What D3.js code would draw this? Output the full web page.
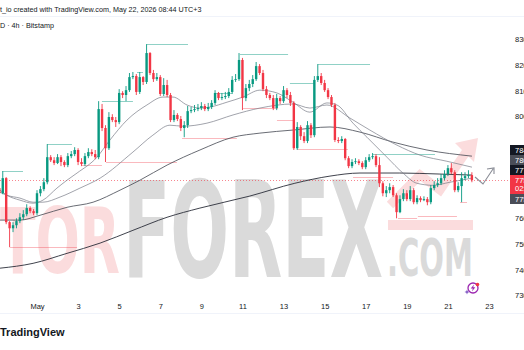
<!DOCTYPE html>
<html>
<head>
<meta charset="utf-8">
<title>BTCUSD 4h</title>
<script src="https://cdn.jsdelivr.net/npm/d3@7"></script>
<style>
  body { margin: 0; background: #ffffff; }
  svg { display: block; }
</style>
</head>
<body>
<svg id="chart"></svg>
<script>
// Chart size
const width = 524;
const height = 350;
const plotRight = 509;

// 4h candles, first bar opens 2026-04-29 04:00 UTC, each bar opens at the previous close
const firstBarTime = Date.UTC(2026, 3, 29, 4);
const firstOpen = 77190;
const closes = [
  76990, 77580, 75860, 75620, 75740, 75900, 76050, 76170, 76410, 76290,
  76210, 76990, 77150, 77420, 78400, 78280, 78170, 78400, 78210, 78090,
  78440, 78520, 78680, 78210, 78130, 78440, 78600, 78520, 78400, 80280,
  79540, 78750, 79970, 79850, 79770, 80910, 80830, 81020, 81530, 81570,
  80950, 81530, 81340, 82470, 81690, 81450, 81530, 80870, 81220, 80830,
  79850, 80050, 79890, 79540, 79650, 80200, 80240, 80280, 80320, 80400,
  80280, 80360, 80520, 80910, 80710, 80750, 80790, 80950, 81420, 81450,
  82200, 80710, 81100, 81260, 81450, 81960, 81690, 81060, 80830, 80710,
  80320, 80710, 80590, 81020, 80830, 80520, 78750, 79580, 79220, 79030,
  79650, 79260, 81420, 81570, 81300, 81020, 80750, 80440, 79070, 79030,
  79110, 78360, 78050, 78210, 78240, 78170, 78010, 78280, 78400, 78440,
  78090, 77380, 76990, 77110, 77230, 76910, 76250, 76760, 76990, 76760,
  77110, 76640, 76800, 76720, 76760, 76640, 77190, 77310, 77380, 77580,
  77740, 77970, 77810, 77110, 77270, 77580, 77660, 77700, 77500
];
const highs = [
  77270, 77850, 77620, 75900, 75860, 76010, 76210, 76330, 76560, 76480,
  76370, 77110, 77270, 77580, 78910, 78480, 78400, 78520, 78480, 78280,
  78560, 78640, 78790, 78750, 78360, 78560, 78750, 78710, 78680, 80590,
  80480, 79650, 80160, 80080, 79970, 81060, 80980, 81180, 81690, 81730,
  81650, 81730, 81570, 82820, 82510, 81810, 81690, 81610, 81490, 81420,
  80910, 80240, 80120, 80010, 79810, 80400, 80360, 80440, 80480, 80550,
  80480, 80520, 80630, 81020, 80950, 80910, 80950, 81100, 81570, 81650,
  82470, 82280, 81260, 81420, 81610, 82120, 82040, 81810, 81180, 80910,
  80830, 80870, 80790, 81180, 81100, 80950, 80590, 79770, 79650, 79380,
  79810, 79730, 81570, 82040, 81690, 81420, 81100, 80830, 80520, 79180,
  79220, 79150, 78440, 78320, 78360, 78320, 78240, 78400, 78520, 78560,
  78520, 78400, 77460, 77270, 77380, 77310, 76990, 76910, 77150, 77110,
  77270, 77190, 76910, 76870, 76870, 76840, 77310, 77460, 77580, 77740,
  77890, 78090, 78170, 77890, 77420, 77810, 77810, 77890, 77810
];
const lows = [
  76870, 76950, 75780, 74880, 75470, 75620, 75820, 75940, 76090, 76210,
  76130, 76130, 76870, 77070, 77340, 78210, 78090, 78130, 78050, 78010,
  78010, 78360, 78440, 78090, 78050, 78050, 78360, 78440, 78320, 78320,
  79420, 78210, 78680, 79770, 79580, 79690, 80710, 80590, 80950, 81450,
  80830, 80870, 81220, 81260, 81610, 81340, 81380, 80790, 80790, 80750,
  79770, 79770, 79810, 79420, 79180, 79540, 80120, 80160, 80200, 80240,
  80200, 80200, 80280, 80440, 80630, 80630, 80670, 80710, 80870, 81340,
  81380, 80240, 80590, 80980, 81140, 81380, 81610, 80980, 80710, 80630,
  80240, 80240, 80480, 80520, 80710, 80400, 78680, 78680, 79070, 78950,
  78950, 79150, 79180, 81340, 81220, 80950, 80670, 80360, 78990, 78950,
  78950, 78280, 77970, 77970, 78130, 78090, 77930, 77930, 78210, 78320,
  78010, 77230, 76870, 76840, 76990, 76840, 76010, 76210, 76680, 76680,
  76680, 76560, 76560, 76640, 76680, 76520, 76560, 77110, 77230, 77310,
  77500, 77660, 77740, 77030, 77030, 76640, 77500, 77580, 77420
];

// moving averages, [day of May, price]
const maFast = [
  [-0.80, 77110], [-0.46, 76910], [0.17, 76720], [0.81, 76600], [1.29, 76720],
  [1.97, 77190], [2.46, 77500], [2.95, 77780], [3.92, 78400], [4.55, 79070],
  [5.38, 79850], [6.35, 80440], [7.13, 80750], [7.62, 80750], [8.30, 80440],
  [8.93, 80320], [9.42, 80360], [10.25, 80550], [11.02, 80750], [11.85, 81020],
  [12.68, 80910], [13.46, 80550], [14.28, 80160], [15.11, 80520], [15.60, 80440],
  [16.38, 79730], [17.06, 79180], [18.03, 78400], [18.81, 77780], [19.49, 77380],
  [20.27, 77300], [21.10, 77420], [22.17, 77580]
];
const maMid = [
  [-0.80, 77030], [-0.46, 76910], [0.17, 76800], [0.81, 76640], [1.29, 76640],
  [2.12, 76840], [3.09, 77190], [4.07, 77580], [5.67, 78600], [6.64, 79260],
  [7.47, 79650], [8.10, 79610], [9.27, 79730], [10.54, 80050], [11.85, 80320],
  [13.46, 80480], [14.28, 80320], [15.11, 80440], [16.23, 79930], [17.20, 79460],
  [18.52, 78870], [19.64, 78480], [20.95, 78240], [22.17, 78010]
];
const maSlow = [
  [-0.80, 75940], [0.17, 75940], [1.15, 76130], [2.46, 76440], [3.73, 76640],
  [5.04, 77110], [6.01, 77500], [7.33, 78090], [8.93, 78680], [10.54, 79180],
  [11.85, 79340], [13.46, 79460], [15.26, 79580], [16.72, 79380], [18.32, 78990],
  [19.98, 78680], [22.17, 78440]
];
const maLong = [
  [-0.80, 74060], [0.81, 74250], [2.46, 74640], [4.07, 75040], [5.67, 75540],
  [7.33, 76050], [8.93, 76410], [11.36, 76880], [13.55, 77380], [15.26, 77660],
  [16.72, 77780], [18.66, 77780], [20.61, 77740], [22.17, 77700]
];

// swing high / low levels, [from day, to day, price]
const swingHighs = [
  [-0.70, 0.32, 77850], [1.49, 2.70, 78910], [4.16, 5.67, 80590], [5.87, 6.16, 81730],
  [6.35, 8.35, 82820], [9.66, 10.49, 80910], [10.88, 13.22, 82430], [13.31, 14.53, 81300],
  [14.68, 17.21, 82040], [17.35, 20.37, 78520]
];
const swingLows = [
  [-0.31, 2.95, 74880], [3.19, 4.16, 78090], [4.36, 7.81, 78210], [8.06, 10.73, 79150],
  [11.03, 12.73, 80320], [12.68, 13.46, 79850], [13.70, 16.13, 78710], [16.38, 18.33, 77620],
  [18.57, 19.50, 76010], [19.54, 21.44, 76090], [21.59, 21.93, 76640]
];

// axis ticks
const priceTicks = [73000, 74000, 75000, 76000, 77000, 78000, 79000, 80000, 81000, 82000, 83000];
const dayTicks = [1, 3, 5, 7, 9, 11, 13, 15, 17, 19, 21, 23];
const dayLabels = ["May", "3", "5", "7", "9", "11", "13", "15", "17", "19", "21", "23"];

const upColor = "#089981";
const downColor = "#f23645";
const font = "'Liberation Sans', Arial, sans-serif";

const may = (d) => new Date(Date.UTC(2026, 4, 1) + (d - 1) * 864e5);

const bars = closes.map((c, i) => ({
  t: new Date(firstBarTime + i * 4 * 3600e3),
  o: i === 0 ? firstOpen : closes[i - 1],
  c: c,
  h: highs[i],
  l: lows[i]
}));

// Scales
const x = d3.scaleUtc().domain([may(1), may(23)]).range([37, 489]);
const y = d3.scaleLinear().domain([73000, 83000]).range([295.3, 39.5]);

const svg = d3.select("#chart").attr("width", width).attr("height", height)
  .style("background", "#fff");

svg.append("defs").append("clipPath").attr("id", "plot")
  .append("rect").attr("x", 0).attr("y", 17).attr("width", plotRight).attr("height", 282);

// Header
svg.append("text").attr("x", 0).attr("y", 11.5)
  .attr("font-family", font).attr("font-size", 7.2).attr("fill", "#131722")
  .text("t_io created with TradingView.com, May 22, 2026 08:44 UTC+3");
svg.append("line").attr("x1", 0).attr("x2", width).attr("y1", 16.5).attr("y2", 16.5)
  .attr("stroke", "#f0f3fa");
svg.append("text").attr("x", 0).attr("y", 27.5)
  .attr("font-family", font).attr("font-size", 7.2).attr("fill", "#131722")
  .text("D · 4h · Bitstamp");

// Watermark
const wm = svg.append("g")
  .attr("font-family", "'Liberation Sans Narrow', 'DejaVu Sans Condensed', sans-serif")
  .attr("font-weight", "bold");
wm.append("path")
  .attr("d", "M390,205 L420,175 L440,190 L466,152")
  .attr("fill", "none").attr("stroke", "#fbdcdd").attr("stroke-width", 9);
wm.append("path")
  .attr("d", "M455,143 L478,138 L474,162 Z").attr("fill", "#fbdcdd");
wm.append("text").attr("x", 0).attr("y", 273).attr("font-size", 90)
  .attr("textLength", 120).attr("lengthAdjust", "spacingAndGlyphs")
  .attr("fill", "#fbdcdd").text("TOR");
wm.append("text").attr("x", 123).attr("y", 277).attr("font-size", 133)
  .attr("textLength", 260).attr("lengthAdjust", "spacingAndGlyphs")
  .attr("fill", "#dadada").text("FOREX");
wm.append("rect").attr("x", 388).attr("y", 220).attr("width", 85).attr("height", 10)
  .attr("fill", "#fbdcdd");
wm.append("text").attr("x", 387).attr("y", 276).attr("font-size", 52)
  .attr("textLength", 86).attr("lengthAdjust", "spacingAndGlyphs")
  .attr("fill", "#dadada").text(".COM");

const plot = svg.append("g").attr("clip-path", "url(#plot)");

// Swing levels
plot.selectAll(".swing-high").data(swingHighs).enter().append("line")
  .attr("x1", (d) => x(may(d[0]))).attr("x2", (d) => x(may(d[1])))
  .attr("y1", (d) => Math.round(y(d[2])) + 0.5).attr("y2", (d) => Math.round(y(d[2])) + 0.5)
  .attr("stroke", upColor).attr("stroke-opacity", 0.45);
plot.selectAll(".swing-low").data(swingLows).enter().append("line")
  .attr("x1", (d) => x(may(d[0]))).attr("x2", (d) => x(may(d[1])))
  .attr("y1", (d) => Math.round(y(d[2])) + 0.5).attr("y2", (d) => Math.round(y(d[2])) + 0.5)
  .attr("stroke", downColor).attr("stroke-opacity", 0.35);

// Last price line
const lastPrice = closes[closes.length - 1];
plot.append("line").attr("x1", 0).attr("x2", plotRight)
  .attr("y1", Math.round(y(lastPrice)) + 0.5).attr("y2", Math.round(y(lastPrice)) + 0.5)
  .attr("stroke", downColor).attr("stroke-opacity", 0.6).attr("stroke-dasharray", "1,2");

// Moving averages
const maLine = d3.line().x((d) => x(may(d[0]))).y((d) => y(d[1])).curve(d3.curveMonotoneX);
const maStyles = [
  { data: maLong, color: "#2a2e39", w: 0.9 },
  { data: maSlow, color: "#434651", w: 0.8 },
  { data: maMid, color: "#787b86", w: 0.7 },
  { data: maFast, color: "#787b86", w: 0.7 }
];
maStyles.forEach((m) => {
  plot.append("path").attr("d", maLine(m.data))
    .attr("fill", "none").attr("stroke", m.color).attr("stroke-width", m.w);
});

// Candles
const candles = plot.selectAll(".candle").data(bars).enter().append("g").attr("class", "candle");
candles.append("line")
  .attr("x1", (d) => x(d.t)).attr("x2", (d) => x(d.t))
  .attr("y1", (d) => y(d.h)).attr("y2", (d) => y(d.l))
  .attr("stroke", (d) => (d.c >= d.o ? upColor : downColor)).attr("stroke-width", 0.9);
candles.append("rect")
  .attr("x", (d) => x(d.t) - 1.2).attr("width", 2.4)
  .attr("y", (d) => y(Math.max(d.o, d.c)))
  .attr("height", (d) => Math.max(0.8, Math.abs(y(d.o) - y(d.c))))
  .attr("fill", (d) => (d.c >= d.o ? upColor : downColor));

// Drawn arrow
svg.append("path").attr("d", "M475,177 L483,184 L493,169 M487,169 L494,168 L494,174")
  .attr("fill", "none").attr("stroke", "#8a8d96").attr("stroke-width", 1.1);

// Value labels on the price axis
const fmt = d3.format(".2f");
const lastOf = (a) => a[a.length - 1][1];
const axisBoxes = [
  { top: 145, h: 10, fill: "#131722", lines: [fmt(lastOf(maSlow))] },
  { top: 155, h: 10, fill: "#4a4d57", lines: [fmt(lastOf(maMid))] },
  { top: 165, h: 10, fill: "#131722", lines: [fmt(lastOf(maLong))] },
  { top: 175, h: 19, fill: downColor, lines: [fmt(lastPrice), "02:15:47"] },
  { top: 194, h: 10, fill: "#4a4d57", lines: [fmt(lastOf(maFast))] }
];

// Price axis, tick labels hidden where a value label covers them
const covered = (v) => axisBoxes.some((b) => y(v) > b.top - 4 && y(v) < b.top + b.h + 4);
svg.append("g").attr("transform", "translate(515,0)")
  .call(d3.axisRight(y).tickValues(priceTicks.filter((v) => !covered(v)))
    .tickSize(0).tickPadding(0).tickFormat(d3.format(".2f")))
  .call((g) => g.select(".domain").remove())
  .attr("font-family", font).attr("font-size", 7.5)
  .selectAll("text").attr("fill", "#131722");

const boxes = svg.selectAll(".axis-box").data(axisBoxes).enter().append("g");
boxes.append("rect").attr("x", 510).attr("y", (d) => d.top).attr("width", 20).attr("height", (d) => d.h)
  .attr("fill", (d) => d.fill);
boxes.each(function (d) {
  d.lines.forEach((t, j) => {
    d3.select(this).append("text").attr("x", 515).attr("y", d.top + 7.5 + j * 8.5)
      .attr("font-family", font).attr("font-size", 7.5).attr("fill", "#fff").text(t);
  });
});

// Time axis
svg.append("g").attr("transform", "translate(0,300.5)")
  .call(d3.axisBottom(x).tickValues(dayTicks.map(may)).tickSize(0).tickPadding(3)
    .tickFormat((d, i) => dayLabels[i]))
  .call((g) => g.select(".domain").remove())
  .attr("font-family", font).attr("font-size", 7.5)
  .selectAll("text").attr("fill", "#131722");
svg.append("line").attr("x1", 0).attr("x2", width).attr("y1", 313.5).attr("y2", 313.5)
  .attr("stroke", "#f0f3fa");

// Script icon
const icon = svg.append("g").attr("transform", "translate(473,288)");
icon.append("circle").attr("r", 5).attr("fill", "none").attr("stroke", "#9c27b0").attr("stroke-width", 1.3);
icon.append("path").attr("d", "M1,-3.5 L-2.3,0.6 L-0.2,0.6 L-1,3.6 L2.3,-0.7 L0.2,-0.7 Z").attr("fill", "#9c27b0");
icon.append("circle").attr("cx", 4.5).attr("cy", -3.5).attr("r", 1.8).attr("fill", downColor);
icon.append("path").attr("d", "M-6,1.5 L-5.3,3.3 L-3.5,4 L-5.3,4.7 L-6,6.5 L-6.7,4.7 L-8.5,4 L-6.7,3.3 Z")
  .attr("fill", "#7e57c2");

// Footer
svg.append("text").attr("x", 0).attr("y", 336)
  .attr("font-family", font).attr("font-size", 11).attr("font-weight", "bold").attr("fill", "#131722")
  .text("TradingView");
</script>
</body>
</html>
